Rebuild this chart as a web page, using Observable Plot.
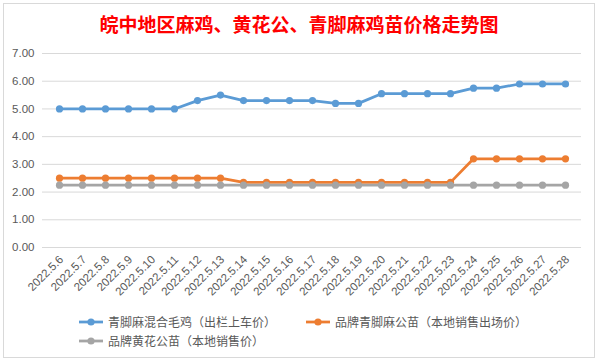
<!DOCTYPE html>
<html><head><meta charset="utf-8">
<script src="https://cdn.jsdelivr.net/npm/d3@7"></script>
<script src="https://cdn.jsdelivr.net/npm/@observablehq/plot@0.6"></script>
<style>
html,body{margin:0;padding:0;background:#fff;}
#wrap{position:relative;width:598px;height:362px;overflow:hidden;background:#fff;}
#frame{position:absolute;left:3px;top:3px;width:590px;height:353px;border:1px solid #d9d9d9;background:#fff;}
#title{position:absolute;left:0;top:11px;width:598px;text-align:center;color:#ff0000;
  font-family:"Noto Sans CJK SC",sans-serif;font-weight:700;font-size:19px;line-height:26px;}
#chart{position:absolute;left:0;top:0;}
.leg{position:absolute;display:flex;align-items:center;font-family:"Noto Sans CJK SC",sans-serif;
  font-size:12px;color:#595959;line-height:16px;white-space:nowrap;}
.leg svg{margin-right:4px;}
</style></head>
<body><div id="wrap"><div id="frame"></div>
<div id="title">皖中地区麻鸡、黄花公、青脚麻鸡苗价格走势图</div>
<div id="chart"></div>
<div id="legend"></div>
</div>
<script>
const dates = ["2022.5.6","2022.5.7","2022.5.8","2022.5.9","2022.5.10","2022.5.11","2022.5.12","2022.5.13","2022.5.14","2022.5.15","2022.5.16","2022.5.17","2022.5.18","2022.5.19","2022.5.20","2022.5.21","2022.5.22","2022.5.23","2022.5.24","2022.5.25","2022.5.26","2022.5.27","2022.5.28"];
const seriesNames = ["青脚麻混合毛鸡（出栏上车价）","品牌青脚麻公苗（本地销售出场价）","品牌黄花公苗（本地销售价）"];
const blueValues = [5.0,5.0,5.0,5.0,5.0,5.0,5.3,5.5,5.3,5.3,5.3,5.3,5.2,5.2,5.55,5.55,5.55,5.55,5.75,5.75,5.9,5.9,5.9];
const orangeValues = [2.5,2.5,2.5,2.5,2.5,2.5,2.5,2.5,2.35,2.35,2.35,2.35,2.35,2.35,2.35,2.35,2.35,2.35,3.2,3.2,3.2,3.2,3.2];
const grayValues = [2.25,2.25,2.25,2.25,2.25,2.25,2.25,2.25,2.25,2.25,2.25,2.25,2.25,2.25,2.25,2.25,2.25,2.25,2.25,2.25,2.25,2.25,2.25];
const yTicks = [0,1,2,3,4,5,6,7];
const colors = ["#5b9bd5","#ed7d31","#a5a5a5"];

const allValues = [blueValues, orangeValues, grayValues];
const data = [];
allValues.forEach((vals, s) => vals.forEach((v, i) => data.push({date: dates[i], value: v, series: seriesNames[s]})));

const chart = Plot.plot({
  width: 598, height: 305,
  marginLeft: 42, marginRight: 17, marginTop: 53, marginBottom: 58,
  style: {fontFamily: "Liberation Sans, sans-serif", fontSize: "11px", color: "#595959", background: "transparent"},
  x: {type: "point", domain: dates, padding: 0.5, label: null},
  y: {domain: [0, 7], label: null},
  color: {domain: seriesNames, range: colors},
  marks: [
    Plot.gridY(yTicks, {stroke: "#d9d9d9", strokeOpacity: 1, strokeWidth: 1}),
    Plot.axisY(yTicks, {tickSize: 0, tickPadding: 8, tickFormat: d => d.toFixed(2), fontSize: 11.5, fill: "#595959"}),
    Plot.axisX({tickSize: 0, tickRotate: -45, tickPadding: 10, fontSize: 11.5, fill: "#595959", dx: 2}),
    Plot.line(data, {x: "date", y: "value", z: "series", stroke: "series", strokeWidth: 2.75, strokeLinejoin: "round"}),
    Plot.dot(data, {x: "date", y: "value", fill: "series", r: 3.6, stroke: "none"})
  ]
});
document.getElementById("chart").appendChild(chart);

const legendPos = [[78, 314], [305, 314], [78, 333]];
const legend = document.getElementById("legend");
seriesNames.forEach((name, i) => {
  const d = document.createElement("div");
  d.className = "leg";
  d.style.left = legendPos[i][0] + "px";
  d.style.top = legendPos[i][1] + "px";
  d.innerHTML = `<svg width="26" height="10"><line x1="1" x2="25" y1="5" y2="5" stroke="${colors[i]}" stroke-width="2.75"/><circle cx="13" cy="5" r="3.6" fill="${colors[i]}"/></svg><span>${name}</span>`;
  legend.appendChild(d);
});
</script></body></html>
